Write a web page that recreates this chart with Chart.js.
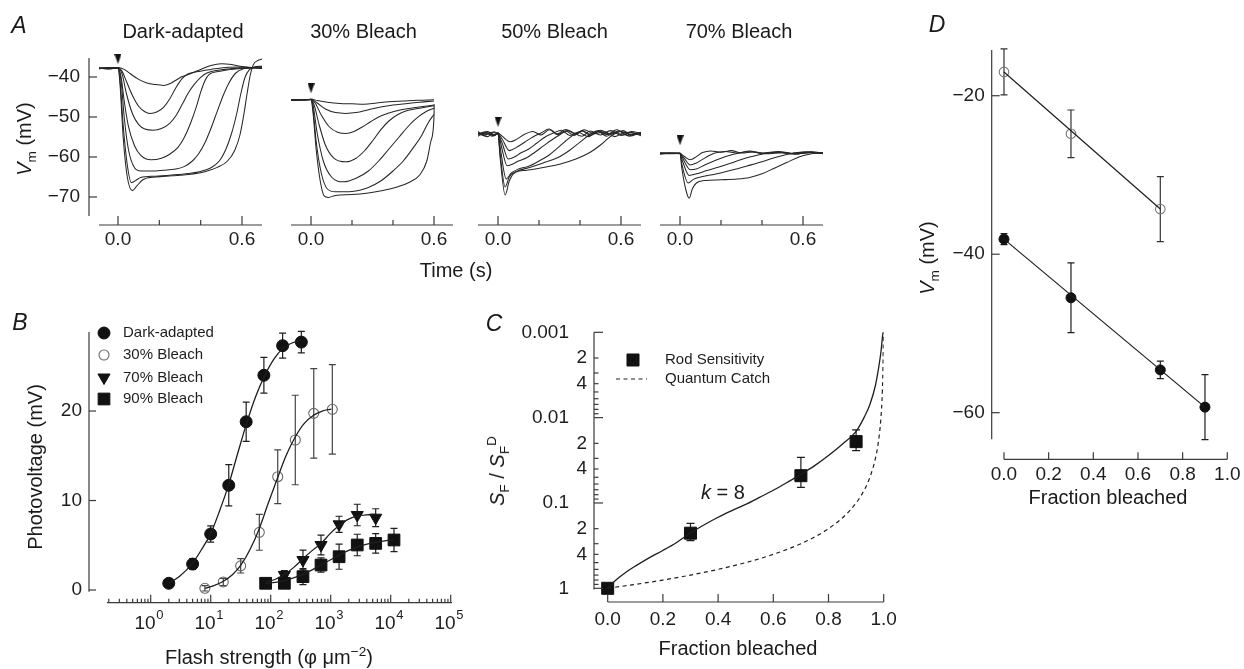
<!DOCTYPE html>
<html><head><meta charset="utf-8">
<script src="https://cdn.jsdelivr.net/npm/chart.js@4.4.1/dist/chart.umd.min.js"></script>
<style>
html,body{margin:0;padding:0;background:#fff;}
#fig{position:relative;width:1244px;height:669px;overflow:hidden;background:#fff;font-family:"Liberation Sans",Arial,sans-serif;color:#1a1a1a;}
#fig canvas{position:absolute;left:0;top:0;}
.lb{position:absolute;white-space:nowrap;transform:translate(-50%,-50%);line-height:1;}
.rot{transform:translate(-50%,-50%) rotate(-90deg);}
.lb sub,.lb sup{font-size:68%;line-height:0;}
</style></head><body><div id="fig"></div>
<script>
// ---------------- DATA ----------------
// Panel A: photovoltage traces [time s, Vm mV]
const dark1 = [[-0.092,-38.0],[-0.06,-37.7],[-0.03,-37.9],[0,-37.6],[0.03,-38.1],[0.06,-39.2],[0.1,-40.6],[0.14,-41.5],[0.18,-41.9],[0.22,-42.1],[0.25,-41.7],[0.28,-40.8],[0.31,-39.9],[0.35,-39.2],[0.4,-38.1],[0.45,-37.1],[0.5,-36.7],[0.55,-36.9],[0.6,-37.4],[0.65,-37.7],[0.697,-37.9]];
const dark2 = [[-0.092,-37.7],[-0.05,-38.0],[0,-37.7],[0.02,-38.6],[0.04,-41.0],[0.07,-44.6],[0.1,-47.3],[0.13,-48.7],[0.155,-49.1],[0.19,-48.7],[0.22,-47.6],[0.25,-45.5],[0.28,-42.7],[0.31,-40.4],[0.34,-39.2],[0.38,-38.7],[0.45,-38.1],[0.52,-37.6],[0.6,-37.5],[0.697,-37.8]];
const dark3 = [[-0.092,-37.9],[-0.04,-37.6],[0,-37.7],[0.02,-39.3],[0.04,-44.0],[0.07,-49.2],[0.1,-51.9],[0.13,-53.0],[0.17,-53.3],[0.21,-52.9],[0.25,-51.6],[0.28,-49.7],[0.31,-46.9],[0.34,-44.0],[0.37,-41.8],[0.4,-40.1],[0.43,-39.0],[0.5,-38.2],[0.6,-37.7],[0.697,-37.5]];
const dark4 = [[-0.092,-37.8],[-0.05,-37.9],[0,-37.8],[0.015,-40.0],[0.03,-46.0],[0.05,-52.2],[0.08,-57.2],[0.11,-59.6],[0.16,-60.7],[0.21,-60.3],[0.25,-59.3],[0.29,-57.6],[0.32,-55.2],[0.35,-51.7],[0.38,-47.3],[0.4,-43.8],[0.42,-41.0],[0.44,-39.4],[0.5,-38.5],[0.6,-37.9],[0.697,-37.7]];
const dark5 = [[-0.092,-37.8],[0,-37.8],[0.015,-41.0],[0.03,-50.0],[0.05,-58.0],[0.08,-62.7],[0.11,-63.5],[0.16,-63.5],[0.22,-63.3],[0.28,-63.0],[0.32,-62.4],[0.36,-61.0],[0.39,-59.2],[0.42,-56.5],[0.45,-52.8],[0.48,-48.6],[0.51,-44.5],[0.54,-41.2],[0.57,-39.0],[0.61,-37.9],[0.65,-37.6],[0.697,-37.5]];
const dark6 = [[-0.092,-37.8],[0,-37.7],[0.01,-41.0],[0.025,-52.0],[0.045,-62.0],[0.065,-66.4],[0.085,-65.9],[0.11,-65.1],[0.18,-64.8],[0.26,-64.5],[0.34,-64.1],[0.4,-63.6],[0.45,-62.7],[0.49,-61.0],[0.52,-58.3],[0.55,-54.0],[0.575,-49.0],[0.595,-44.0],[0.615,-40.0],[0.635,-38.2],[0.66,-37.5],[0.697,-37.3]];
const dark7 = [[-0.092,-37.9],[0,-37.6],[0.01,-42.0],[0.025,-55.0],[0.045,-65.0],[0.07,-68.4],[0.09,-67.3],[0.12,-65.7],[0.18,-65.0],[0.26,-64.7],[0.34,-64.4],[0.42,-63.7],[0.48,-62.6],[0.53,-61.0],[0.565,-58.3],[0.59,-54.5],[0.61,-49.0],[0.625,-44.0],[0.64,-39.5],[0.655,-36.9],[0.675,-35.9],[0.697,-35.5]];

const b30_1 = [[-0.098,-45.9],[-0.06,-45.6],[-0.03,-45.8],[0,-45.5],[0.03,-45.9],[0.08,-46.3],[0.14,-46.6],[0.2,-46.7],[0.26,-46.8],[0.32,-46.5],[0.38,-46.2],[0.45,-46.0],[0.52,-45.8],[0.6,-45.7]];
const b30_2 = [[-0.098,-45.8],[-0.04,-45.6],[0,-45.6],[0.03,-46.5],[0.07,-48.0],[0.12,-48.9],[0.17,-49.1],[0.22,-48.9],[0.28,-48.2],[0.34,-47.5],[0.4,-47.0],[0.46,-46.7],[0.53,-46.3],[0.6,-46.0]];
const b30_3 = [[-0.098,-45.7],[0,-45.6],[0.02,-46.5],[0.05,-49.5],[0.09,-52.5],[0.13,-53.8],[0.17,-54.1],[0.21,-53.6],[0.25,-52.5],[0.29,-51.2],[0.33,-50.0],[0.38,-49.0],[0.43,-48.3],[0.5,-47.7],[0.6,-47.0]];
const b30_4 = [[-0.098,-45.8],[0,-45.7],[0.015,-47.0],[0.04,-52.0],[0.07,-57.0],[0.11,-60.2],[0.17,-61.2],[0.22,-60.3],[0.26,-58.5],[0.3,-56.0],[0.34,-53.2],[0.38,-51.0],[0.42,-49.5],[0.47,-48.4],[0.53,-47.8],[0.6,-47.2]];
const b30_5 = [[-0.098,-45.8],[0,-45.6],[0.01,-47.0],[0.03,-54.0],[0.06,-61.0],[0.1,-65.0],[0.16,-66.2],[0.22,-65.3],[0.28,-63.5],[0.33,-61.0],[0.38,-58.0],[0.43,-55.0],[0.48,-52.0],[0.52,-50.1],[0.56,-48.7],[0.6,-47.8]];
const b30_6 = [[-0.098,-45.8],[0,-45.6],[0.01,-48.0],[0.025,-56.0],[0.05,-64.0],[0.08,-68.0],[0.12,-68.7],[0.2,-68.6],[0.28,-67.6],[0.34,-66.0],[0.4,-63.5],[0.45,-61.0],[0.5,-57.6],[0.54,-54.6],[0.57,-51.6],[0.6,-49.3]];
const b30_7 = [[-0.098,-45.8],[0,-45.7],[0.01,-49.0],[0.025,-58.0],[0.045,-66.0],[0.065,-69.8],[0.085,-70.1],[0.12,-69.6],[0.2,-69.4],[0.28,-69.0],[0.35,-68.4],[0.42,-67.5],[0.48,-66.3],[0.53,-64.5],[0.565,-61.0],[0.585,-56.0],[0.6,-50.0],[0.601,-46.8]];

const b50_1 = [[-0.098,-53.6],[-0.07,-54.6],[-0.04,-53.9],[-0.02,-54.7],[0,-54.0],[0.02,-54.8],[0.06,-56.2],[0.09,-55.6],[0.13,-54.3],[0.17,-53.6],[0.21,-54.5],[0.25,-53.2],[0.29,-54.4],[0.33,-53.5],[0.37,-54.6],[0.41,-53.4],[0.45,-54.3],[0.49,-53.7],[0.53,-54.8],[0.57,-53.8],[0.61,-54.5],[0.65,-53.6],[0.698,-54.2]];
const b50_2 = [[-0.098,-54.5],[-0.06,-53.8],[-0.03,-54.8],[0,-54.2],[0.02,-55.5],[0.055,-58.4],[0.09,-57.6],[0.13,-56.3],[0.17,-55.0],[0.21,-54.0],[0.25,-53.0],[0.29,-54.2],[0.33,-53.1],[0.37,-54.0],[0.41,-54.8],[0.45,-53.5],[0.5,-54.5],[0.55,-53.4],[0.6,-54.6],[0.65,-53.9],[0.698,-54.7]];
const b50_3 = [[-0.098,-54.0],[-0.05,-54.9],[-0.02,-53.7],[0,-54.3],[0.02,-56.5],[0.05,-60.5],[0.08,-60.0],[0.11,-59.0],[0.15,-58.0],[0.19,-56.5],[0.23,-55.0],[0.27,-54.0],[0.31,-53.3],[0.35,-54.6],[0.39,-53.8],[0.44,-54.9],[0.49,-53.6],[0.54,-54.3],[0.59,-53.5],[0.64,-54.8],[0.698,-53.9]];
const b50_4 = [[-0.098,-54.8],[-0.06,-54.0],[-0.02,-54.6],[0,-53.9],[0.015,-57.0],[0.045,-62.2],[0.07,-61.8],[0.1,-61.0],[0.14,-60.2],[0.18,-58.8],[0.22,-57.3],[0.26,-55.8],[0.3,-54.5],[0.34,-53.4],[0.38,-54.3],[0.42,-53.2],[0.47,-54.2],[0.52,-53.7],[0.57,-54.9],[0.62,-53.8],[0.698,-54.4]];
const b50_5 = [[-0.098,-54.2],[-0.05,-53.6],[-0.02,-54.4],[0,-54.0],[0.012,-58.0],[0.04,-65.5],[0.065,-64.0],[0.1,-63.0],[0.15,-62.3],[0.2,-61.0],[0.25,-59.5],[0.29,-57.8],[0.33,-56.0],[0.37,-54.4],[0.41,-53.5],[0.45,-54.6],[0.5,-53.3],[0.55,-54.3],[0.6,-53.6],[0.65,-54.5],[0.698,-53.8]];
const b50_6 = [[-0.098,-53.9],[-0.06,-54.5],[-0.03,-53.8],[0,-54.2],[0.01,-59.0],[0.035,-67.5],[0.055,-65.0],[0.09,-63.6],[0.15,-62.7],[0.22,-61.5],[0.29,-60.2],[0.35,-58.3],[0.4,-56.3],[0.45,-54.3],[0.49,-53.4],[0.53,-54.4],[0.58,-53.2],[0.63,-54.6],[0.698,-54.0]];
const b50_7 = [[-0.098,-54.3],[-0.05,-54.0],[-0.02,-54.7],[0,-54.1],[0.01,-60.0],[0.035,-69.5],[0.055,-66.0],[0.08,-64.0],[0.14,-63.3],[0.22,-62.6],[0.3,-61.8],[0.38,-60.5],[0.45,-58.8],[0.5,-57.0],[0.54,-55.2],[0.57,-54.2],[0.61,-53.4],[0.65,-54.5],[0.698,-53.9]];

const b70_1 = [[-0.098,-59.3],[-0.05,-59.0],[0,-59.1],[0.02,-59.8],[0.05,-60.7],[0.08,-59.9],[0.11,-58.9],[0.15,-58.5],[0.2,-58.8],[0.25,-58.4],[0.3,-59.0],[0.36,-58.7],[0.42,-59.2],[0.5,-58.9],[0.58,-59.2],[0.64,-58.8],[0.698,-59.1]];
const b70_2 = [[-0.098,-59.0],[0,-59.2],[0.02,-60.3],[0.05,-62.0],[0.08,-61.5],[0.11,-60.6],[0.14,-59.7],[0.17,-59.0],[0.22,-58.6],[0.28,-59.0],[0.34,-58.5],[0.4,-59.1],[0.48,-58.8],[0.56,-59.3],[0.64,-58.7],[0.698,-59.0]];
const b70_3 = [[-0.098,-59.1],[0,-59.0],[0.015,-60.5],[0.05,-63.2],[0.08,-63.0],[0.12,-62.0],[0.16,-61.1],[0.2,-60.3],[0.24,-59.6],[0.28,-59.1],[0.34,-58.7],[0.4,-59.0],[0.48,-58.6],[0.56,-59.2],[0.64,-58.9],[0.698,-59.2]];
const b70_4 = [[-0.098,-59.2],[0,-59.1],[0.012,-61.0],[0.045,-64.6],[0.08,-64.2],[0.13,-63.4],[0.19,-62.5],[0.25,-61.5],[0.3,-60.6],[0.35,-59.9],[0.41,-59.2],[0.47,-58.8],[0.54,-59.1],[0.61,-58.7],[0.698,-59.0]];
const b70_5 = [[-0.098,-59.0],[0,-59.1],[0.01,-62.0],[0.04,-66.5],[0.065,-65.6],[0.1,-65.0],[0.17,-64.3],[0.25,-63.3],[0.33,-62.2],[0.4,-61.2],[0.46,-60.2],[0.51,-59.5],[0.56,-59.0],[0.62,-58.8],[0.698,-59.1]];
const b70_6 = [[-0.098,-59.1],[0,-59.0],[0.008,-62.5],[0.03,-68.5],[0.045,-70.3],[0.06,-68.0],[0.08,-66.5],[0.12,-65.9],[0.2,-65.7],[0.28,-65.5],[0.34,-65.1],[0.4,-64.2],[0.46,-62.8],[0.52,-61.4],[0.58,-60.0],[0.63,-59.3],[0.67,-59.0],[0.698,-58.9]];

const flashMarkerVm = [-35.5, -42.8, -51.2, -55.8]; // stimulus arrow heights, one per condition
const aTitles = ['Dark-adapted', '30% Bleach', '50% Bleach', '70% Bleach'];
const aTimeTicks = [0, 0.2, 0.4, 0.6];
const aTimeTickLabels = ['0.0', '', '', '0.6'];
const aVmTicks = [-40, -50, -60, -70];

// Panel B: intensity-response (flash strength, photovoltage mV, SEM)
const bDarkX = [2, 5, 10, 20, 39, 77, 158, 324];
const bDarkY = [0.75, 2.9, 6.26, 11.7, 18.8, 24.0, 27.3, 27.7];
const bDarkErr = [0, 0.6, 0.9, 2.3, 2.2, 2.0, 1.4, 1.2];
const b30X = [8, 16.2, 31.6, 64.6, 131, 257, 522, 1064];
const b30Y = [0.19, 0.9, 2.7, 6.44, 12.66, 16.76, 19.74, 20.19];
const b30Err = [0.3, 0.4, 0.8, 2.0, 3.0, 5.0, 5.0, 5.0];
const b70X = [82.4, 169, 345, 690, 1380, 2770, 5620];
const b70Y = [0.93, 1.68, 3.35, 5.03, 7.34, 8.38, 8.08];
const b70Err = [0.2, 0.5, 1.1, 1.1, 0.9, 1.2, 1.0];
const b90X = [82.4, 169, 345, 690, 1380, 2770, 5620, 11350];
const b90Y = [0.75, 0.75, 1.49, 2.79, 3.72, 5.03, 5.21, 5.59];
const b90Err = [0.2, 0.5, 0.9, 0.8, 1.4, 1.2, 1.1, 1.3];
// fitted curves
const bDarkCurve = [[2,0.75],[3,1.5],[5,3.0],[7,4.5],[10,6.3],[14,8.8],[20,11.8],[28,15.2],[40,18.7],[56,21.6],[80,24.0],[113,25.8],[160,27.0],[226,27.6],[320,27.9]];
const b30Curve = [[8,0.2],[11,0.45],[16,0.95],[23,1.7],[32,2.8],[45,4.5],[64,6.8],[90,9.6],[128,12.4],[180,15.0],[256,17.1],[360,18.6],[512,19.5],[724,20.0],[1024,20.2]];
const b70Curve = [[82,0.85],[120,1.2],[170,1.75],[240,2.5],[345,3.5],[490,4.4],[690,5.2],[980,6.3],[1380,7.2],[1950,7.9],[2770,8.25],[3900,8.4],[5620,8.45]];
const b90Curve = [[82,0.75],[120,0.85],[170,1.05],[240,1.35],[345,1.75],[490,2.25],[690,2.8],[980,3.35],[1380,3.9],[1950,4.4],[2770,4.8],[3900,5.1],[5620,5.35],[8000,5.5],[11350,5.6]];
const bLegend = ['Dark-adapted', '30% Bleach', '70% Bleach', '90% Bleach'];
const bYTicks = [0, 10, 20];
const bDecades = [1, 10, 100, 1000, 10000, 100000];
const bDecadeExp = ['0', '1', '2', '3', '4', '5'];

// Panel C: relative sensitivity vs fraction bleached
const cFrac = [0, 0.3, 0.7, 0.9];
const cSens = [1.0, 0.226, 0.0479, 0.0191];
const cSensLo = [1.0, 0.173, 0.0292, 0.0139];
const cSensHi = [1.0, 0.276, 0.0655, 0.0243];
const cFitK8 = [[0,1],[0.03,0.8],[0.06,0.67],[0.1,0.55],[0.15,0.44],[0.2,0.36],[0.25,0.29],[0.3,0.225],[0.35,0.18],[0.4,0.147],[0.45,0.123],[0.5,0.104],[0.55,0.086],[0.6,0.071],[0.65,0.0575],[0.7,0.0462],[0.75,0.0365],[0.8,0.0278],[0.85,0.0205],[0.9,0.0145],[0.93,0.0098],[0.95,0.007],[0.97,0.0042],[0.98,0.0028],[0.99,0.0017],[0.996,0.0011],[0.998,0.001]];
const cQuantum = [[0,1],[0.1,0.9],[0.2,0.8],[0.3,0.7],[0.4,0.6],[0.5,0.5],[0.6,0.4],[0.7,0.3],[0.75,0.25],[0.8,0.2],[0.85,0.15],[0.9,0.1],[0.93,0.07],[0.95,0.05],[0.97,0.03],[0.98,0.02],[0.99,0.01],[0.995,0.005],[0.998,0.002],[0.999,0.001]];
const cLegend = ['Rod Sensitivity', 'Quantum Catch'];
const cFracTicks = [0, 0.2, 0.4, 0.6, 0.8, 1.0];
const cFracTickLabels = ['0.0', '0.2', '0.4', '0.6', '0.8', '1.0'];
const cMajorTicks = [0.001, 0.01, 0.1, 1];
const cMajorLabels = ['0.001', '0.01', '0.1', '1'];

// Panel D: membrane potential vs fraction bleached
const dFracOpen = [0, 0.3, 0.7];
const dVmOpen = [-17.0, -24.8, -34.3];
const dErrOpen = [2.9, 3.0, 4.1];
const dFracFilled = [0, 0.3, 0.7, 0.9];
const dVmFilled = [-38.1, -45.5, -54.6, -59.3];
const dErrFilled = [0.7, 4.4, 1.1, 4.1];
const dFitOpen = [[0, -17.0], [0.7, -34.3]];
const dFitFilled = [[0, -38.1], [0.9, -59.3]];
const dVmTicks = [-20, -40, -60];

// ---------------- RENDERING ----------------
const W = 1244, H = 669;
const INK = '#1e1e1e', AXC = '#3a3a3a';
const TICKFONT = '19px "Liberation Sans", Arial, sans-serif';
const fig = document.getElementById('fig');
const xy = arr => arr.map(p => ({x: p[0], y: p[1]}));
const zipXY = (xs, ys) => xs.map((x, i) => ({x, y: ys[i]}));
const minus = v => (v < 0 ? '\u2212' + Math.abs(v) : String(v));

const errPlugin = {
  id: 'errbars',
  beforeDatasetsDraw(chart) {
    const ctx = chart.ctx, xs = chart.scales.x, ys = chart.scales.y;
    chart.data.datasets.forEach(ds => {
      if (!ds.errLo) return;
      ctx.save(); ctx.strokeStyle = ds.errColor || INK; ctx.lineWidth = 1.2;
      ds.data.forEach((p, i) => {
        const lo = ds.errLo[i], hi = ds.errHi[i];
        if (lo === hi) return;
        const px = xs.getPixelForValue(p.x), p1 = ys.getPixelForValue(lo), p2 = ys.getPixelForValue(hi), c = ds.errCap || 3.5;
        ctx.beginPath();
        ctx.moveTo(px, p1); ctx.lineTo(px, p2);
        ctx.moveTo(px - c, p1); ctx.lineTo(px + c, p1);
        ctx.moveTo(px - c, p2); ctx.lineTo(px + c, p2);
        ctx.stroke();
      });
      ctx.restore();
    });
  }
};

function drawXAxis(chart, a) {
  const ctx = chart.ctx, s = chart.scales.x, y0 = chart.chartArea.bottom;
  ctx.beginPath(); ctx.moveTo(s.getPixelForValue(a.from), y0); ctx.lineTo(s.getPixelForValue(a.to), y0); ctx.stroke();
  a.ticks.forEach(t => {
    const px = s.getPixelForValue(t.v);
    ctx.beginPath(); ctx.moveTo(px, y0); ctx.lineTo(px, y0 - t.len); ctx.stroke();
    if (!t.label) return;
    ctx.textBaseline = 'middle';
    if (t.sup) {
      ctx.font = TICKFONT; const w1 = ctx.measureText(t.label).width;
      ctx.font = a.supFont; const w2 = ctx.measureText(t.sup).width;
      const x0 = px - (w1 + w2) / 2 + (a.supShift || 0);
      ctx.textAlign = 'left';
      ctx.font = TICKFONT; ctx.fillText(t.label, x0, y0 + a.gap);
      ctx.font = a.supFont; ctx.fillText(t.sup, x0 + w1 + 0.5, y0 + a.gap - a.supRise);
    } else {
      ctx.font = TICKFONT; ctx.textAlign = 'center'; ctx.fillText(t.label, px, y0 + a.gap);
    }
  });
}
function drawYAxis(chart, a) {
  const ctx = chart.ctx, s = chart.scales.y, x0 = chart.chartArea.left;
  ctx.beginPath(); ctx.moveTo(x0, s.getPixelForValue(a.from)); ctx.lineTo(x0, s.getPixelForValue(a.to)); ctx.stroke();
  a.ticks.forEach(t => {
    const py = s.getPixelForValue(t.v);
    ctx.beginPath(); ctx.moveTo(x0, py); ctx.lineTo(x0 + t.len, py); ctx.stroke();
    if (!t.label) return;
    ctx.font = TICKFONT; ctx.textAlign = 'right'; ctx.textBaseline = 'middle';
    ctx.fillText(t.label, x0 - (t.gap != null ? t.gap : a.gap), py);
  });
}
function drawLegend(chart, L) {
  const ctx = chart.ctx;
  L.items.forEach(it => {
    const ds = chart.data.datasets[it.ds];
    ctx.save();
    if (it.kind === 'line') {
      ctx.strokeStyle = ds.borderColor; ctx.lineWidth = ds.borderWidth; ctx.setLineDash(ds.borderDash || []);
      ctx.beginPath(); ctx.moveTo(it.x1, it.y); ctx.lineTo(it.x2, it.y); ctx.stroke();
    } else {
      ctx.fillStyle = ds.pointBackgroundColor; ctx.strokeStyle = ds.pointBorderColor; ctx.lineWidth = ds.pointBorderWidth;
      Chart.helpers.drawPoint(ctx, {pointStyle: ds.pointStyle, rotation: ds.pointRotation || 0, radius: ds.pointRadius, borderWidth: ds.pointBorderWidth}, it.x, it.y);
    }
    ctx.restore();
    ctx.fillStyle = INK; ctx.font = L.font; ctx.textAlign = 'left'; ctx.textBaseline = 'middle';
    ctx.fillText(ds.label, it.tx, it.y);
  });
}
const axisPlugin = {
  id: 'axdraw',
  afterDatasetsDraw(chart, args, o) {
    const ctx = chart.ctx;
    ctx.save();
    ctx.strokeStyle = AXC; ctx.fillStyle = INK; ctx.lineWidth = 1.2; ctx.setLineDash([]);
    if (o.x) drawXAxis(chart, o.x);
    if (o.y) drawYAxis(chart, o.y);
    if (o.legend) drawLegend(chart, o.legend);
    ctx.restore();
  }
};

function makeChart(area, scales, datasets, ax) {
  const cv = document.createElement('canvas');
  cv.width = W; cv.height = H; cv.style.width = W + 'px'; cv.style.height = H + 'px';
  fig.appendChild(cv);
  return new Chart(cv, {
    type: 'scatter',
    data: {datasets},
    options: {
      responsive: false, animation: false, devicePixelRatio: 1, events: [],
      layout: {padding: {left: area.l, top: area.t, right: W - area.r, bottom: H - area.b}},
      scales,
      plugins: {legend: {display: false}, tooltip: {enabled: false}, axdraw: ax}
    },
    plugins: [errPlugin, axisPlugin]
  });
}
function lineDS(points, extra) {
  return Object.assign({data: xy(points), showLine: true, pointRadius: 0, borderColor: INK, borderWidth: 1.1,
    cubicInterpolationMode: 'monotone', fill: false}, extra || {});
}
function addLabel(html, x, y, size, opts) {
  opts = opts || {};
  const d = document.createElement('div');
  d.className = 'lb' + (opts.rot ? ' rot' : '');
  d.innerHTML = html;
  d.style.left = x + 'px'; d.style.top = y + 'px'; d.style.fontSize = size + 'px';
  if (opts.italic) d.style.fontStyle = 'italic';
  if (opts.left) d.style.transform = 'translate(0,-50%)';
  fig.appendChild(d);
}

// flash-arrow marker image
const arrowImg = (() => { const c = document.createElement('canvas'); c.width = 7; c.height = 10; const g = c.getContext('2d');
  g.fillStyle = '#111'; g.beginPath(); g.moveTo(0, 0); g.lineTo(7, 0); g.lineTo(3.5, 10); g.closePath(); g.fill(); return c; })();

// ---- Panel A ----
const aPanels = [
  {traces: [dark1, dark2, dark3, dark4, dark5, dark6, dark7], l: 89, r: 262, xmin: -0.1403, xmax: 0.6967, from: -0.092, to: 0.6967, yAxis: true},
  {traces: [b30_1, b30_2, b30_3, b30_4, b30_5, b30_6, b30_7], l: 291, r: 453, xmin: -0.0976, xmax: 0.6927, from: -0.0976, to: 0.6927},
  {traces: [b50_1, b50_2, b50_3, b50_4, b50_5, b50_6, b50_7], l: 478, r: 641, xmin: -0.0976, xmax: 0.6976, from: -0.0976, to: 0.6976},
  {traces: [b70_1, b70_2, b70_3, b70_4, b70_5, b70_6], l: 660, r: 823, xmin: -0.0976, xmax: 0.6976, from: -0.0976, to: 0.6976}
];
aPanels.forEach((p, k) => {
  const ds = p.traces.map(tr => lineDS(tr, {borderWidth: 1.05, borderColor: '#262626'}));
  ds.push({data: [{x: 0, y: flashMarkerVm[k]}], pointStyle: arrowImg, pointRadius: 4, clip: false});
  const ax = {
    x: {from: p.from, to: p.to, gap: 15, ticks: aTimeTicks.map((v, i) => ({v, len: aTimeTickLabels[i] ? 9 : 5, label: aTimeTickLabels[i]}))}
  };
  if (p.yAxis) ax.y = {from: -74.75, to: -35.25, gap: 9, ticks: aVmTicks.map(v => ({v, len: 8, label: minus(v)}))};
  makeChart({l: p.l, r: p.r, t: 58, b: 225},
    {x: {type: 'linear', display: false, min: p.xmin, max: p.xmax, bounds: 'data'},
     y: {type: 'linear', display: false, min: -77.0, max: -35.25, bounds: 'data'}}, ds, ax);
});

// ---- Panel B ----
function symErr(xs, ys, es) { return {data: zipXY(xs, ys), errLo: ys.map((y, i) => y - es[i]), errHi: ys.map((y, i) => y + es[i])}; }
const bMinor = [];
for (let e = -1; e <= 4; e++) for (let m = 2; m <= 9; m++) { const v = m * Math.pow(10, e); if (v >= 0.19) bMinor.push(v); }
const bTicks = bDecades.map((v, i) => ({v, len: 8, label: '10', sup: bDecadeExp[i]})).concat(bMinor.map(v => ({v, len: 4})));
const bDatasets = [
  lineDS(bDarkCurve, {borderWidth: 1.3}), lineDS(b30Curve, {borderWidth: 1.3}), lineDS(b70Curve, {borderWidth: 1.3}), lineDS(b90Curve, {borderWidth: 1.3}),
  Object.assign(symErr(bDarkX, bDarkY, bDarkErr), {label: bLegend[0], pointStyle: 'circle', pointRadius: 6, pointBackgroundColor: '#111', pointBorderColor: '#111', pointBorderWidth: 1, errCap: 3.5, clip: false}),
  Object.assign(symErr(b30X, b30Y, b30Err), {label: bLegend[1], pointStyle: 'circle', pointRadius: 5, pointBackgroundColor: 'rgba(255,255,255,0)', pointBorderColor: '#6a6a6a', pointBorderWidth: 1.1, errColor: '#444', errCap: 3.5, clip: false}),
  Object.assign(symErr(b70X, b70Y, b70Err), {label: bLegend[2], pointStyle: 'triangle', pointRotation: 180, pointRadius: 7, pointBackgroundColor: '#111', pointBorderColor: '#111', pointBorderWidth: 1, errCap: 3.5, clip: false}),
  Object.assign(symErr(b90X, b90Y, b90Err), {label: bLegend[3], pointStyle: 'rect', pointRadius: 8.3, pointBackgroundColor: '#111', pointBorderColor: '#111', pointBorderWidth: 1, errCap: 3.5, clip: false})
];
makeChart({l: 89, r: 452, t: 332, b: 602.7},
  {x: {type: 'logarithmic', display: false, min: 0.0937, max: 105120, bounds: 'data'},
   y: {type: 'linear', display: false, min: -1.419, max: 28.83, bounds: 'data'}},
  bDatasets,
  {x: {from: 0.187, to: 105120, gap: 21, supFont: '13px "Liberation Sans", Arial, sans-serif', supRise: 8, supShift: -2, ticks: bTicks},
   y: {from: -0.2, to: 28.83, gap: 7, ticks: bYTicks.map(v => ({v, len: 7, label: String(v)}))},
   legend: {font: '15px "Liberation Sans", Arial, sans-serif', items: [
     {ds: 4, x: 104, y: 333, tx: 123}, {ds: 5, x: 104, y: 355, tx: 123}, {ds: 6, x: 104, y: 377.5, tx: 123}, {ds: 7, x: 104, y: 399, tx: 123}]}});

// ---- Panel C ----
const cYTicks = [];
cMajorTicks.forEach((v, i) => cYTicks.push({v, len: 9, label: cMajorLabels[i], gap: 25}));
[0.001, 0.01, 0.1].forEach(d => { for (let m = 2; m <= 9; m++) cYTicks.push({v: m * d, len: 4.5, label: (m === 2 || m === 4) ? String(m) : '', gap: 7}); });
const cDatasets = [
  lineDS(cFitK8, {borderWidth: 1.3}),
  lineDS(cQuantum, {label: cLegend[1], borderWidth: 1.2, borderDash: [4, 3.5]}),
  {label: cLegend[0], data: zipXY(cFrac, cSens), errLo: cSensLo, errHi: cSensHi, errCap: 4, pointStyle: 'rect', pointRadius: 8.5,
   pointBackgroundColor: '#111', pointBorderColor: '#111', pointBorderWidth: 1, clip: false}
];
makeChart({l: 594, r: 883.7, t: 332.3, b: 602},
  {x: {type: 'linear', display: false, min: -0.0496, max: 1.0, bounds: 'data'},
   y: {type: 'logarithmic', display: false, reverse: true, min: 0.001, max: 1.447, bounds: 'data'}},
  cDatasets,
  {x: {from: 0, to: 1.0, gap: 18, ticks: cFracTicks.map((v, i) => ({v, len: 8, label: cFracTickLabels[i]}))},
   y: {from: 0.001, to: 1.03, gap: 25, ticks: cYTicks},
   legend: {font: '15px "Liberation Sans", Arial, sans-serif', items: [
     {ds: 2, x: 633, y: 360, tx: 665}, {ds: 1, kind: 'line', x1: 616, x2: 647, y: 379, tx: 665}]}});

// ---- Panel D ----
const dDatasets = [
  lineDS(dFitOpen, {borderWidth: 1.2, cubicInterpolationMode: 'default', tension: 0}),
  lineDS(dFitFilled, {borderWidth: 1.2, cubicInterpolationMode: 'default', tension: 0}),
  Object.assign(symErr(dFracOpen, dVmOpen, dErrOpen), {pointStyle: 'circle', pointRadius: 4.8, pointBackgroundColor: 'rgba(255,255,255,0)', pointBorderColor: '#777', pointBorderWidth: 1.1, errCap: 3.5, errColor: '#333', clip: false}),
  Object.assign(symErr(dFracFilled, dVmFilled, dErrFilled), {pointStyle: 'circle', pointRadius: 5, pointBackgroundColor: '#111', pointBorderColor: '#111', pointBorderWidth: 1, errCap: 3.5, clip: false})
];
makeChart({l: 991.7, r: 1227.3, t: 50, b: 459.3},
  {x: {type: 'linear', display: false, min: -0.055, max: 1.0, bounds: 'data'},
   y: {type: 'linear', display: false, min: -65.88, max: -14.23, bounds: 'data'}},
  dDatasets,
  {x: {from: 0, to: 1.0, gap: 15, ticks: cFracTicks.map((v, i) => ({v, len: 7, label: cFracTickLabels[i]}))},
   y: {from: -63.36, to: -14.23, gap: 7, ticks: dVmTicks.map(v => ({v, len: 8, label: minus(v)}))}});

// ---- Text labels ----
addLabel('A', 19, 25, 23, {italic: true});
addLabel('B', 20, 322, 23, {italic: true});
addLabel('C', 494, 323, 23, {italic: true});
addLabel('D', 937, 24, 23, {italic: true});
const aTitleX = [183, 363.5, 554.5, 739];
aTitles.forEach((t, i) => addLabel(t, aTitleX[i], 31, 20));
addLabel('Time (s)', 456, 270, 20);
addLabel('<i>V</i><sub>m</sub> (mV)', 24, 139, 20, {rot: true});
addLabel('Photovoltage (mV)', 35, 467, 20, {rot: true});
addLabel('Flash strength (\u03c6 \u03bcm<sup>\u22122</sup>)', 269, 657, 20);
addLabel('<i>S</i><sub>F</sub> / <i>S</i><sub>F</sub><sup>D</sup>', 497, 471, 20, {rot: true});
addLabel('Fraction bleached', 738, 648, 20);
addLabel('<i>k</i> = 8', 701, 492, 20, {left: true});
addLabel('<i>V</i><sub>m</sub> (mV)', 927, 258, 20, {rot: true});
addLabel('Fraction bleached', 1108, 497, 20);
</script></body></html>
